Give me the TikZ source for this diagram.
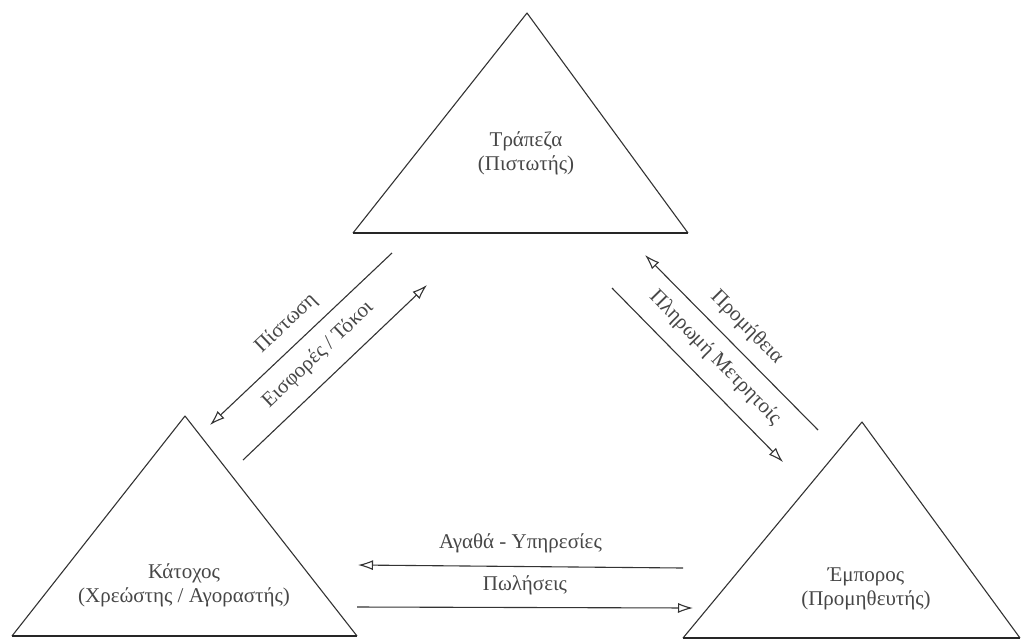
\documentclass[tikz,border=0pt]{standalone}
\usepackage{fontspec}
\setmainfont{Liberation Serif}
\usetikzlibrary{arrows.meta}

\begin{document}
\begin{tikzpicture}[x=1pt, y=-1pt,
    every node/.style={font=\fontsize{21}{24}\selectfont, text=black!72},
    side/.style={draw=black!80, line width=1.1pt, line join=round},
    base/.style={draw=black!85, line width=2pt},
    flow/.style={draw=black!80, line width=1.1pt, -{Latex[open, length=15pt, width=10pt]}},
    lbl/.style={align=center, inner sep=0pt}]
    \useasboundingbox (0,0) rectangle (1022,641);

    % the three parties
    \foreach \ax/\ay/\lx/\rx/\by in {527/13/353/688/233, 185/416/12/357/636, 862/422/683/1020/638} {
        \draw[side] (\lx,\by) -- (\ax,\ay) -- (\rx,\by);
        \draw[base] (\lx,\by) -- (\rx,\by);
    }

    \node[lbl] (bank)   at (526,153) {Τράπεζα\\(Πιστωτής)};
    \node[lbl] (holder) at (184,585) {Κάτοχος\\(Χρεώστης / Αγοραστής)};
    \node[lbl] (trader) at (866,589) {Έμπορος\\(Προμηθευτής)};

    % ends of the flows
    \coordinate (b1) at (392,253);
    \coordinate (k1) at (210,425);
    \coordinate (k2) at (243,460);
    \coordinate (b2) at (427,285);
    \coordinate (e1) at (818,430);
    \coordinate (b3) at (645,255);
    \coordinate (b4) at (612,288);
    \coordinate (e2) at (783,462);
    \coordinate (e3) at (683,568);
    \coordinate (k3) at (358,565);
    \coordinate (k4) at (357,607);
    \coordinate (e4) at (693,608);

    \draw[flow] (b1) -- node[sloped, above=8pt] {Πίστωση} (k1);
    \draw[flow] (k2) -- node[sloped, above=11pt] {Εισφορές / Τόκοι} (b2);
    \draw[flow] (e1) -- node[sloped, above=8pt] {Προμήθεια} (b3);
    \draw[flow] (b4) -- node[sloped, above=11pt] {Πληρωμή Μετρητοίς} (e2);
    \draw[flow] (e3) -- node[above=10pt] {Αγαθά - Υπηρεσίες} (k3);
    \draw[flow] (k4) -- node[above=9pt] {Πωλήσεις} (e4);
\end{tikzpicture}
\end{document}
